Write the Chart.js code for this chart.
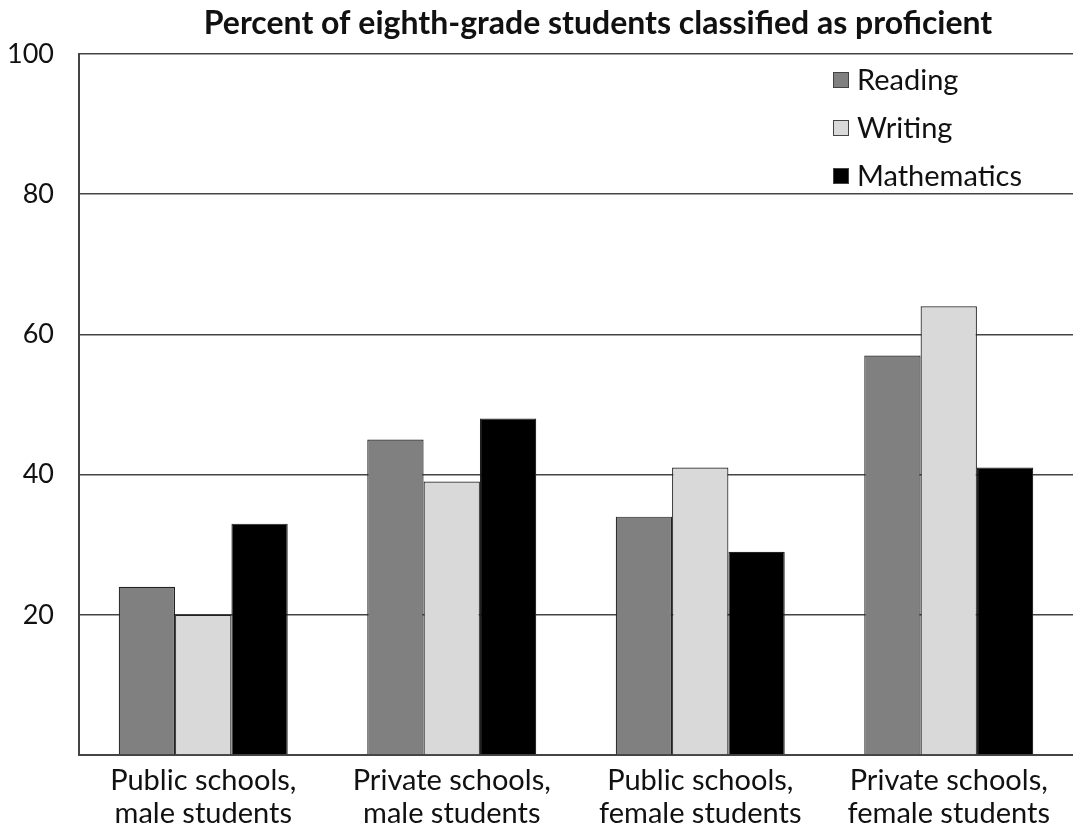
<!DOCTYPE html>
<html>
<head>
<meta charset="utf-8">
<script src="https://cdn.jsdelivr.net/npm/chart.js@4.4.0/dist/chart.umd.min.js"></script>
<style>
  html, body { margin: 0; padding: 0; background: #fff; }
  #wrap { width: 1073px; height: 833px; position: relative; }
</style>
</head>
<body>
<div id="wrap"><canvas id="chart"></canvas></div>
<script>
// Proficiency by school type and sex, eighth grade
const categories = [
  ['Public schools,', 'male students'],
  ['Private schools,', 'male students'],
  ['Public schools,', 'female students'],
  ['Private schools,', 'female students']
];
const reading     = [24, 45, 34, 57];
const writing     = [20, 39, 41, 64];
const mathematics = [33, 48, 29, 41];
const yTicks = [20, 40, 60, 80, 100];

const FONT = 'Lato, "Open Sans", sans-serif';

// Title and in-plot legend drawn by hand
const decor = {
  id: 'decor',
  afterDraw(chart) {
    const c = chart.ctx;
    c.save();
    c.fillStyle = '#111';
    c.font = 'bold 32px ' + FONT;
    c.textAlign = 'center';
    c.textBaseline = 'middle';
    c.fillText('Percent of eighth-grade students classified as proficient', 598, 24);

    c.font = '29px ' + FONT;
    c.textAlign = 'left';
    chart.data.datasets.forEach((ds, i) => {
      const y = 80 + i * 48;
      c.fillStyle = ds.backgroundColor;
      c.fillRect(833, y - 8, 16, 16);
      c.strokeStyle = '#444';
      c.lineWidth = 1;
      c.strokeRect(833.5, y - 7.5, 15, 15);
      c.fillStyle = '#111';
      c.fillText(ds.label, 857, y + 1);
    });
    c.restore();
  }
};

new Chart(document.getElementById('chart'), {
  type: 'bar',
  data: {
    labels: categories,
    datasets: [
      { label: 'Reading',     data: reading,     backgroundColor: '#808080', borderColor: '#222', borderWidth: 1.2 },
      { label: 'Writing',     data: writing,     backgroundColor: '#d9d9d9', borderColor: '#222', borderWidth: 1.2 },
      { label: 'Mathematics', data: mathematics, backgroundColor: '#000000', borderColor: '#222', borderWidth: 1.2 }
    ]
  },
  options: {
    responsive: true, maintainAspectRatio: false, animation: false,
    layout: { padding: { top: 54, left: 0, right: 0, bottom: 0 } },
    categoryPercentage: 0.68, barPercentage: 1.0,
    plugins: { legend: { display: false }, title: { display: false }, tooltip: { enabled: false } },
    scales: {
      x: {
        afterFit: s => { s.height = 78; },
        grid: { display: false, drawTicks: false },
        border: { color: '#444', width: 2 },
        ticks: { color: '#111', font: { family: FONT, size: 29, lineHeight: 1.15 }, padding: 9, maxRotation: 0 }
      },
      y: {
        min: 0, max: 100,
        afterFit: s => { s.width = 79; },
        afterBuildTicks: s => { s.ticks = [0, ...yTicks].map(v => ({ value: v })); },
        grid: { color: '#444', lineWidth: 1.5, drawTicks: false },
        border: { color: '#444', width: 2 },
        ticks: { color: '#111', font: { family: FONT, size: 27 }, padding: 25,
                 callback: v => v === 0 ? '' : v }
      }
    }
  },
  plugins: [decor]
});
</script>
</body>
</html>
